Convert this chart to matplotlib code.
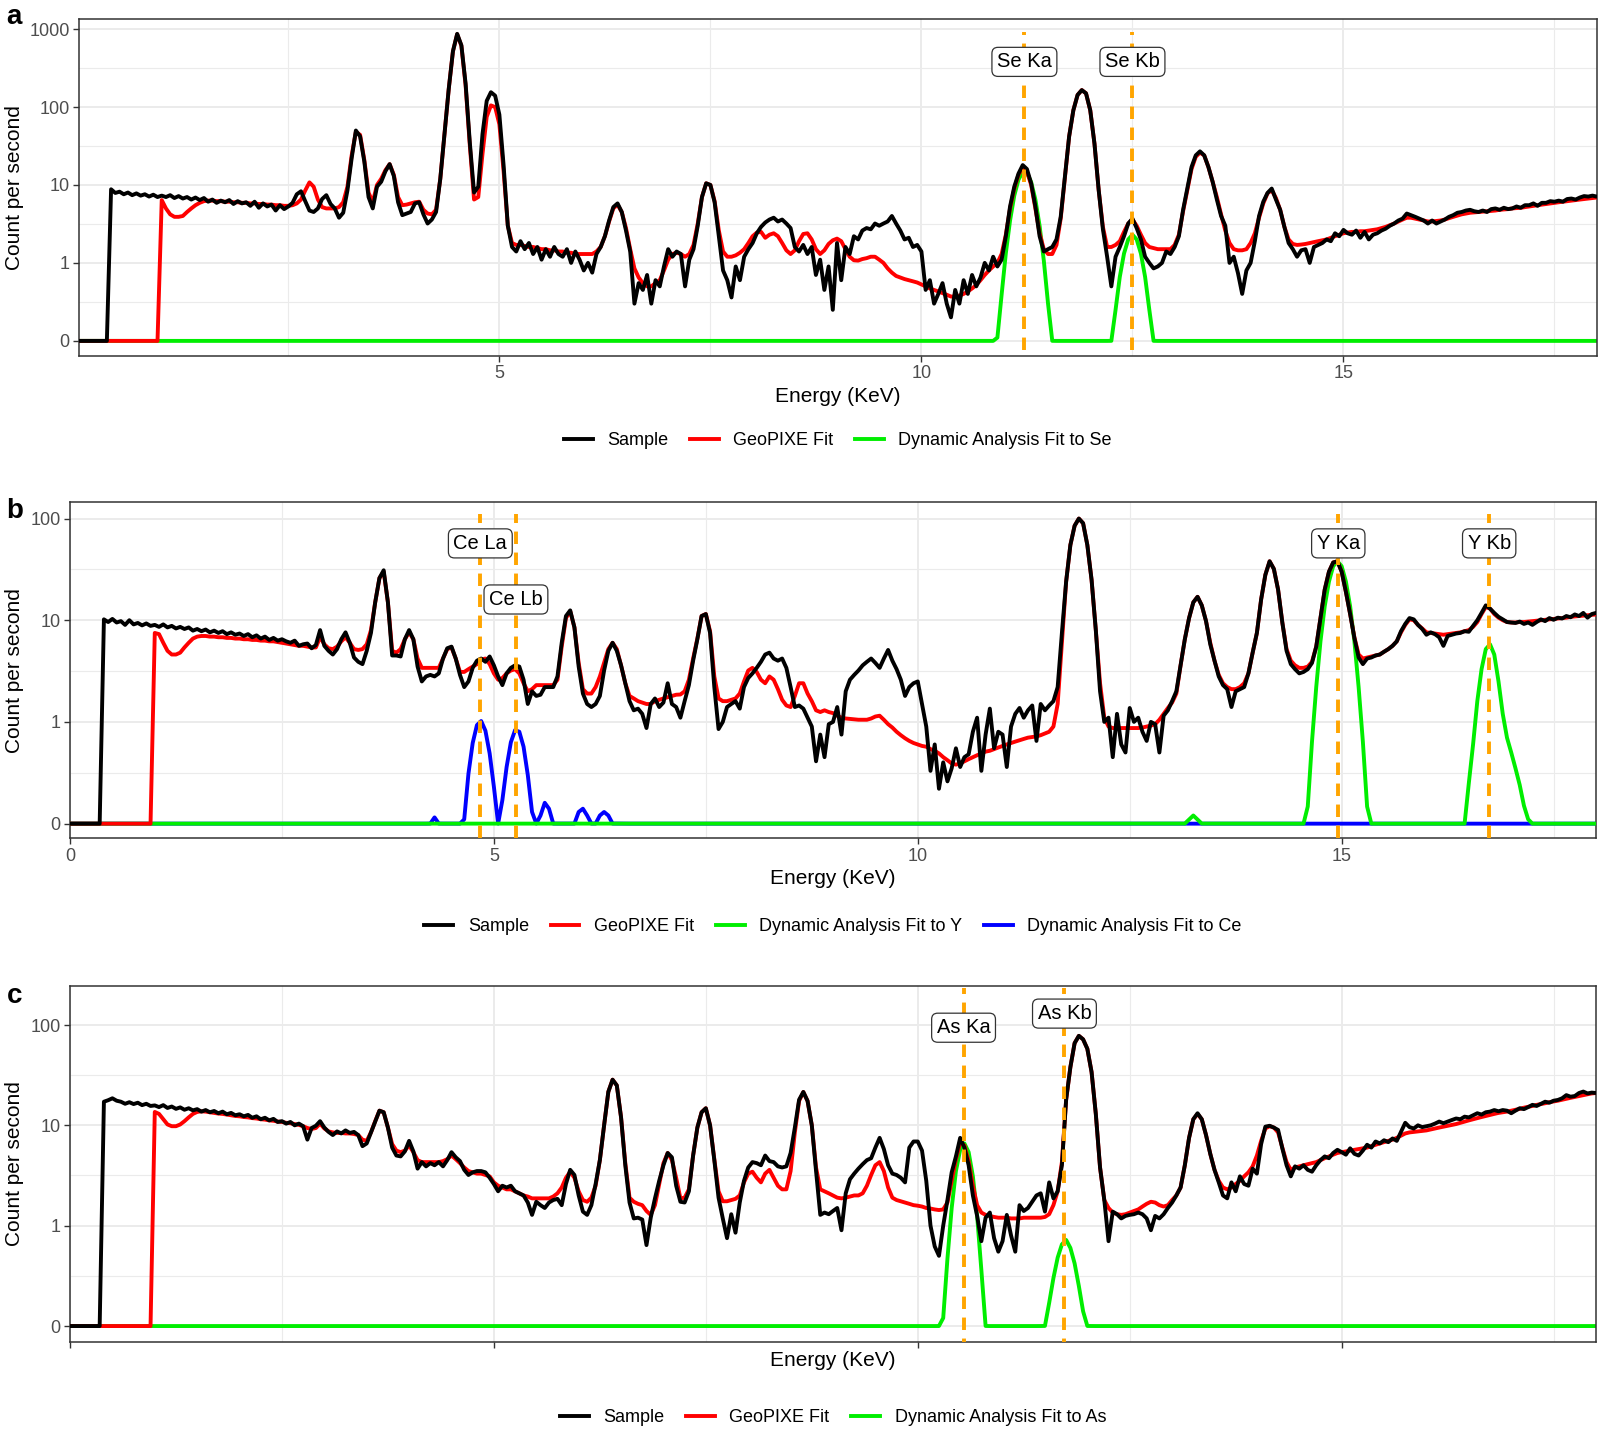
import numpy as np
import matplotlib
matplotlib.use("Agg")
import matplotlib.pyplot as plt
from matplotlib.lines import Line2D
from matplotlib.ticker import FixedLocator

plt.rcParams['font.family'] = ['Liberation Sans', 'DejaVu Sans']

# Energy channels (keV), 0.05 keV steps from 0 to 18
energy = np.round(np.arange(361) * 0.05, 2)

# ---------------- Panel a (Se) ----------------
sample_a = [
    0, 0, 0, 0, 0, 0, 0, 0, 8.8, 7.9, 8.2, 7.6, 8.0, 7.4, 7.8, 7.3, 7.6, 7.1, 7.5, 7.0,
    7.3, 7.0, 7.4, 6.8, 7.2, 6.7, 7.0, 6.5, 6.9, 6.4, 6.8, 6.1, 6.5, 5.9, 6.3, 6.0, 6.4, 5.7, 6.2, 5.8,
    6.0, 5.4, 6.1, 5.1, 5.8, 5.3, 5.6, 4.7, 5.5, 4.9, 5.3, 5.9, 7.6, 8.3, 6.2, 4.7, 4.5, 5.0, 6.6, 7.4,
    5.7, 5.0, 3.8, 4.4, 8.5, 22, 50, 42, 20, 7.0, 5.0, 9.5, 11, 15, 18.5, 13, 6.0, 4.1, 4.3, 4.5,
    5.8, 6.0, 4.2, 3.2, 3.6, 4.5, 12, 45, 170, 520, 870, 620, 200, 35, 8.0, 9.5, 45, 120, 155, 140,
    80, 18, 3.0, 1.6, 1.4, 1.9, 1.5, 1.8, 1.3, 1.6, 1.1, 1.5, 1.2, 1.6, 1.3, 1.2, 1.5, 1.0, 1.4, 1.1,
    0.8, 1.0, 0.75, 1.3, 1.6, 2.2, 3.5, 5.2, 5.8, 4.5, 2.6, 1.4, 0.3, 0.55, 0.45, 0.7, 0.3, 0.6, 0.5, 0.9,
    1.5, 1.2, 1.4, 1.3, 0.5, 1.1, 1.5, 3.0, 7.0, 10.5, 10, 6.0, 2.2, 0.8, 0.6, 0.36, 0.9, 0.6, 1.2, 1.5,
    1.8, 2.4, 2.9, 3.3, 3.6, 3.8, 3.4, 3.6, 3.2, 2.8, 1.6, 1.4, 1.7, 1.3, 1.6, 0.7, 1.1, 0.45, 0.9, 0.25,
    1.8, 0.6, 1.6, 1.3, 2.2, 2.0, 2.6, 2.8, 2.7, 3.2, 3.0, 3.2, 3.4, 4.0, 3.2, 2.6, 2.0, 2.1, 1.6, 1.7,
    1.4, 0.45, 0.6, 0.3, 0.4, 0.55, 0.3, 0.2, 0.45, 0.3, 0.6, 0.4, 0.7, 0.5, 0.65, 1.0, 0.8, 1.2, 0.9, 1.1,
    2.2, 5.3, 9.5, 14, 18, 16, 10.5, 5.3, 2.2, 1.4, 1.5, 1.6, 2.0, 3.9, 12.8, 42, 91, 143, 165, 150,
    91, 34, 8.6, 2.7, 1.2, 0.5, 1.2, 1.6, 2.2, 3.2, 3.7, 2.8, 2.0, 1.2, 1.0, 0.85, 0.9, 1.0, 1.4, 1.3,
    1.6, 2.2, 4.8, 9.0, 17, 24, 27, 24, 17, 11, 6.5, 4.0, 3.0, 1.0, 1.2, 0.74, 0.4, 0.8, 1.0, 1.9,
    4.0, 6.1, 7.9, 9.0, 6.5, 4.8, 2.9, 1.8, 1.5, 1.2, 1.45, 1.5, 1.0, 1.6, 1.7, 1.8, 2.0, 1.9, 2.4, 2.2,
    2.65, 2.4, 2.3, 2.6, 2.1, 2.5, 2.0, 2.3, 2.4, 2.6, 2.75, 3.0, 3.2, 3.5, 3.7, 4.3, 4.1, 3.9, 3.7, 3.5,
    3.2, 3.5, 3.2, 3.4, 3.6, 3.9, 4.1, 4.4, 4.5, 4.7, 4.8, 4.6, 4.5, 4.7, 4.5, 4.9, 5.0, 4.8, 5.1, 4.9,
    5.0, 5.3, 5.1, 5.5, 5.5, 5.8, 5.4, 5.9, 5.9, 6.2, 6.1, 6.3, 6.1, 6.6, 6.7, 6.5, 6.9, 7.2, 7.1, 7.3, 7.1,
]
fit_a = [
    0, 0, 0, 0, 0, 0, 0, 0, 0, 0, 0, 0, 0, 0, 0, 0, 0, 0, 0, 0,
    6.4, 5.0, 4.2, 3.9, 3.9, 4.0, 4.5, 5.0, 5.5, 5.9, 6.2, 6.3, 6.3, 6.2, 6.2, 6.1, 6.1, 6.0, 6.0, 5.9,
    5.9, 5.8, 5.8, 5.7, 5.7, 5.6, 5.6, 5.5, 5.5, 5.4, 5.4, 5.5, 5.8, 6.5, 8.5, 10.8, 9.5, 6.5, 5.2, 5.0,
    5.0, 5.0, 5.2, 6.0, 9.5, 24, 48, 44, 21, 8.0, 6.0, 10, 12, 15.5, 18.5, 13.5, 7.0, 5.5, 5.6, 5.8,
    6.0, 6.1, 4.8, 4.3, 4.2, 4.8, 12, 45, 170, 520, 860, 610, 190, 32, 6.5, 7.0, 25, 75, 105, 100,
    60, 15, 3.0, 1.8, 1.7, 1.7, 1.65, 1.6, 1.6, 1.55, 1.5, 1.5, 1.45, 1.45, 1.4, 1.4, 1.35, 1.35, 1.3, 1.3,
    1.3, 1.3, 1.3, 1.4, 1.6, 2.2, 3.4, 5.0, 5.6, 4.5, 2.8, 1.5, 0.85, 0.65, 0.55, 0.5, 0.5, 0.55, 0.6, 0.8,
    1.1, 1.3, 1.35, 1.3, 1.2, 1.3, 1.7, 3.2, 7.0, 10.5, 10, 6.2, 2.6, 1.4, 1.2, 1.2, 1.25, 1.35, 1.5, 1.8,
    2.2, 2.45, 2.5, 2.1, 2.3, 2.4, 2.2, 1.8, 1.45, 1.3, 1.45, 1.9, 2.35, 2.4, 2.0, 1.5, 1.3, 1.45, 1.75, 1.95,
    2.05, 1.9, 1.5, 1.2, 1.08, 1.07, 1.12, 1.15, 1.2, 1.2, 1.1, 1.0, 0.85, 0.75, 0.68, 0.65, 0.62, 0.6, 0.58, 0.56,
    0.53, 0.5, 0.47, 0.45, 0.43, 0.41, 0.39, 0.37, 0.37, 0.38, 0.4, 0.43, 0.47, 0.52, 0.6, 0.7, 0.8, 0.9, 1.0, 1.3,
    2.3, 5.0, 9.0, 13.5, 17, 15, 10, 5.0, 2.4, 1.5, 1.3, 1.3, 1.7, 3.7, 12.5, 42, 91, 143, 165, 150,
    91, 34, 8.6, 2.9, 1.6, 1.6, 1.7, 1.9, 2.5, 3.2, 3.6, 3.0, 2.3, 1.8, 1.6, 1.55, 1.5, 1.5, 1.5, 1.5,
    1.7, 2.3, 4.6, 8.6, 16, 23, 26, 24, 17, 11, 7.0, 4.2, 2.6, 1.8, 1.5, 1.45, 1.45, 1.5, 1.8, 2.4,
    3.8, 5.8, 7.8, 8.6, 6.8, 4.8, 2.9, 2.0, 1.75, 1.7, 1.72, 1.75, 1.8, 1.85, 1.9, 1.95, 2.0, 2.1, 2.2, 2.3,
    2.4, 2.45, 2.5, 2.5, 2.55, 2.55, 2.6, 2.65, 2.7, 2.8, 2.9, 3.05, 3.2, 3.4, 3.6, 3.8, 3.8, 3.7, 3.6, 3.5,
    3.4, 3.4, 3.45, 3.5, 3.6, 3.75, 3.9, 4.05, 4.2, 4.3, 4.4, 4.45, 4.5, 4.55, 4.6, 4.65, 4.7, 4.8, 4.85, 4.9,
    5.0, 5.05, 5.1, 5.2, 5.3, 5.4, 5.5, 5.6, 5.7, 5.8, 5.9, 6.0, 6.1, 6.2, 6.3, 6.4, 6.5, 6.6, 6.7, 6.8, 6.9,
]
se_energy = [0.0, 10.85, 10.9, 10.95, 11.0, 11.05, 11.1, 11.15, 11.2, 11.25, 11.3, 11.35, 11.4, 11.45,
             11.5, 11.55, 11.6, 12.2, 12.25, 12.3, 12.35, 12.4, 12.45, 12.5, 12.55, 12.6, 12.65, 12.7,
             12.75, 12.8, 18.0]
se_fit = [0, 0.02, 0.11, 0.39, 1.33, 3.5, 7.3, 11.7, 14.7, 14.3, 10.9, 6.5, 3.0, 1.07,
          0.30, 0.08, 0, 0, 0.08, 0.25, 0.66, 1.32, 2.0, 2.3, 2.0, 1.32, 0.66, 0.25,
          0.08, 0, 0]

# ---------------- Panel b (Y, Ce) ----------------
sample_b = [
    0, 0, 0, 0, 0, 0, 0, 0, 10.2, 9.6, 10.3, 9.5, 9.8, 9.0, 10.0, 9.1, 9.4, 8.9, 9.3, 8.8,
    9.0, 8.6, 9.1, 8.5, 8.8, 8.3, 8.6, 8.2, 8.5, 7.9, 8.2, 7.8, 8.1, 7.6, 7.9, 7.5, 7.8, 7.3, 7.6, 7.2,
    7.4, 7.0, 7.3, 6.8, 7.1, 6.6, 6.9, 6.4, 6.7, 6.3, 6.5, 6.2, 6.0, 6.3, 5.6, 5.8, 5.9, 5.3, 5.7, 8.0,
    5.6, 5.0, 4.6, 5.2, 6.5, 7.6, 6.0, 4.3, 3.9, 3.7, 5.0, 7.5, 15, 26, 31, 15, 4.5, 4.5, 4.4, 6.5,
    8.0, 6.5, 3.5, 2.5, 2.8, 2.9, 2.8, 3.0, 4.2, 5.3, 5.5, 4.2, 2.9, 2.2, 2.5, 3.4, 4.0, 4.2, 3.9, 4.4,
    3.6, 2.8, 2.3, 3.0, 3.4, 3.6, 3.5, 2.6, 1.5, 2.0, 1.8, 1.85, 2.2, 2.2, 2.2, 2.8, 6.0, 11, 12.5, 8.5,
    3.5, 1.9, 1.5, 1.4, 1.5, 1.8, 3.2, 5.0, 6.0, 5.0, 3.6, 2.4, 1.6, 1.3, 1.35, 1.2, 0.87, 1.5, 1.7, 1.4,
    1.55, 2.4, 1.5, 1.4, 1.1, 1.6, 2.3, 4.0, 6.5, 11, 11.5, 7.5, 2.2, 0.85, 1.0, 1.4, 1.5, 1.6, 1.35, 2.2,
    2.7, 3.0, 3.4, 3.9, 4.6, 4.8, 4.2, 4.0, 4.2, 3.4, 2.2, 1.4, 1.45, 1.35, 1.1, 0.9, 0.41, 0.75, 0.45, 0.95,
    1.0, 1.4, 0.75, 2.0, 2.6, 2.9, 3.2, 3.6, 3.9, 4.2, 3.8, 3.4, 4.2, 5.1, 4.0, 3.3, 2.6, 1.8, 2.2, 2.4,
    2.5, 1.5, 0.9, 0.33, 0.6, 0.22, 0.4, 0.26, 0.35, 0.55, 0.36, 0.45, 0.48, 0.8, 1.1, 0.33, 0.75, 1.35, 0.55, 0.8,
    0.75, 0.36, 0.9, 1.2, 1.37, 1.1, 1.3, 1.45, 0.65, 1.5, 1.3, 1.45, 1.6, 2.2, 7.5, 24, 55, 85, 100, 90,
    55, 25, 8.0, 2.0, 1.0, 1.1, 0.45, 1.2, 0.6, 0.5, 1.37, 1.0, 1.1, 0.8, 0.65, 1.0, 0.95, 0.5, 1.15, 1.3,
    1.6, 2.0, 3.6, 6.5, 10.5, 15, 17, 14, 9.8, 5.8, 4.0, 2.8, 2.3, 2.1, 1.4, 2.0, 2.1, 2.2, 3.0, 4.8,
    7.5, 16, 28, 38, 32, 20, 9.5, 5.0, 3.7, 3.3, 3.0, 3.1, 3.3, 3.8, 5.5, 10.5, 20, 30, 37, 38,
    30, 19, 11.5, 6.7, 4.3, 3.7, 4.2, 4.3, 4.5, 4.6, 4.9, 5.2, 5.6, 6.2, 7.8, 9.2, 10.5, 10.2, 9.0, 8.2,
    7.2, 7.6, 7.3, 6.8, 5.6, 7.0, 7.2, 7.4, 7.5, 7.8, 7.7, 8.8, 10, 11.8, 14, 13, 11.8, 10.8, 10.2, 9.6,
    9.5, 9.4, 9.7, 9.2, 9.5, 9.0, 9.6, 10.2, 9.8, 10.5, 10.1, 10.6, 10.4, 11.0, 10.7, 11.4, 11.0, 11.8, 10.6, 11.5, 11.8,
]
fit_b = [
    0, 0, 0, 0, 0, 0, 0, 0, 0, 0, 0, 0, 0, 0, 0, 0, 0, 0, 0, 0,
    7.5, 7.3, 6.0, 5.0, 4.6, 4.6, 4.8, 5.4, 6.0, 6.6, 6.9, 7.0, 7.0, 6.9, 6.9, 6.8, 6.8, 6.7, 6.7, 6.6,
    6.6, 6.5, 6.5, 6.4, 6.4, 6.3, 6.3, 6.2, 6.2, 6.1, 6.0, 5.9, 5.8, 5.7, 5.6, 5.6, 5.5, 5.4, 5.4, 6.8,
    5.8, 5.3, 5.2, 5.5, 6.2, 6.8, 6.0, 5.2, 5.1, 5.2, 5.8, 8.0, 15, 26, 30, 15, 5.0, 4.8, 5.2, 6.5,
    7.6, 6.5, 4.2, 3.4, 3.4, 3.4, 3.4, 3.4, 4.2, 5.2, 5.4, 4.2, 3.1, 3.1, 3.3, 3.5, 3.7, 4.1, 4.2, 3.7,
    3.0, 2.6, 2.7, 3.0, 3.2, 3.3, 3.0, 2.4, 2.0, 2.1, 2.3, 2.3, 2.3, 2.3, 2.3, 2.6, 5.5, 10.5, 12.3, 8.5,
    3.8, 2.1, 1.9, 1.9, 2.2, 2.8, 3.8, 5.2, 6.0, 5.2, 3.6, 2.4, 1.8, 1.7, 1.6, 1.55, 1.5, 1.5, 1.6, 1.65,
    1.7, 1.75, 1.8, 1.85, 1.86, 2.0, 2.6, 4.2, 6.6, 11, 11.5, 7.8, 2.8, 1.7, 1.6, 1.6, 1.65, 1.7, 1.9, 2.5,
    3.2, 3.4, 3.1, 2.6, 2.4, 2.8, 2.6, 2.1, 1.65, 1.45, 1.4, 1.8, 2.4, 2.4, 1.9, 1.6, 1.3, 1.25, 1.3, 1.25,
    1.22, 1.15, 1.1, 1.08, 1.07, 1.06, 1.05, 1.05, 1.05, 1.08, 1.13, 1.15, 1.05, 0.95, 0.88, 0.8, 0.74, 0.69, 0.65, 0.62,
    0.6, 0.58, 0.57, 0.54, 0.52, 0.49, 0.45, 0.42, 0.39, 0.38, 0.39, 0.41, 0.43, 0.45, 0.47, 0.49, 0.51, 0.52, 0.54, 0.56,
    0.58, 0.6, 0.62, 0.64, 0.66, 0.68, 0.7, 0.71, 0.72, 0.74, 0.77, 0.8, 0.9, 1.5, 6.0, 24, 55, 85, 100, 90,
    55, 25, 8.0, 2.4, 1.1, 0.9, 0.87, 0.87, 0.87, 0.87, 0.87, 0.87, 0.87, 0.88, 0.9, 0.92, 0.95, 1.05, 1.2, 1.37,
    1.55, 1.9, 3.6, 6.5, 10.5, 15, 17, 14, 9.8, 6.0, 4.0, 2.9, 2.4, 2.2, 2.1, 2.1, 2.2, 2.4, 3.0, 4.8,
    7.5, 16, 28, 38, 32, 20, 9.5, 5.2, 4.0, 3.6, 3.4, 3.4, 3.5, 3.9, 5.5, 10.5, 20, 30, 37, 38,
    30, 19, 11.5, 6.8, 4.6, 4.2, 4.3, 4.4, 4.5, 4.6, 4.9, 5.2, 5.6, 6.2, 7.6, 9.0, 10.2, 10.0, 9.0, 8.3,
    7.6, 7.5, 7.4, 7.3, 7.2, 7.3, 7.4, 7.5, 7.6, 7.8, 8.0, 8.6, 9.6, 11.5, 13.5, 13, 11.5, 10.6, 10.0, 9.6,
    9.5, 9.5, 9.6, 9.6, 9.7, 9.8, 9.9, 10.0, 10.1, 10.2, 10.3, 10.4, 10.5, 10.6, 10.8, 10.9, 11.0, 11.1, 11.2, 11.3, 11.4,
]
y_energy = [0.0, 13.15, 13.25, 13.35,
            14.5, 14.55, 14.6, 14.65, 14.7, 14.75, 14.8, 14.85, 14.9, 14.95, 15.0, 15.05, 15.1, 15.15,
            15.2, 15.25, 15.3, 15.35, 15.4,
            16.35, 16.4, 16.45, 16.5, 16.55, 16.6, 16.65, 16.7, 16.75, 16.8, 16.85, 16.9, 16.95, 17.0,
            17.05, 17.1, 17.15, 17.2, 17.25, 17.3, 18.0]
y_fit = [0, 0.09, 0.12, 0.09,
         0, 0.03, 0.147, 0.64, 2.2, 6.2, 13.7, 24, 34, 38, 34, 24, 13.7, 6.2,
         2.2, 0.64, 0.147, 0.03, 0,
         0, 0.03, 0.1, 0.25, 0.6, 1.6, 3.3, 5.2, 5.8, 4.6, 2.5, 1.2, 0.7, 0.5,
         0.35, 0.24, 0.15, 0.11, 0.05, 0, 0]
ce_energy = [0.0, 4.2, 4.25, 4.3, 4.35, 4.4,
             4.6, 4.65, 4.7, 4.75, 4.8, 4.85, 4.9, 4.95, 5.0, 5.05, 5.1, 5.15, 5.2, 5.25, 5.3, 5.35,
             5.4, 5.45, 5.5, 5.55, 5.6, 5.65, 5.7, 5.75,
             5.9, 5.95, 6.0, 6.05, 6.1, 6.15, 6.2, 6.25, 6.3, 6.35, 6.4, 6.5, 6.6, 18.0]
ce_fit = [0, 0, 0.1, 0.115, 0.1, 0.05,
          0.03, 0.11, 0.31, 0.62, 0.93, 1.02, 0.82, 0.49, 0.23, 0.1, 0.17, 0.36, 0.63, 0.83, 0.8, 0.57,
          0.3, 0.13, 0.09, 0.12, 0.16, 0.14, 0.1, 0.07,
          0.07, 0.1, 0.13, 0.14, 0.12, 0.095, 0.1, 0.12, 0.13, 0.12, 0.1, 0.07, 0, 0]

# ---------------- Panel c (As) ----------------
sample_c = [
    0, 0, 0, 0, 0, 0, 0, 0, 17.2, 17.8, 18.6, 17.6, 17.2, 16.4, 17.0, 16.3, 16.8, 15.9, 16.4, 15.6,
    15.8, 15.2, 15.9, 14.9, 15.4, 14.6, 15.1, 14.3, 14.8, 14.1, 14.5, 13.7, 14.2, 13.5, 13.9, 13.2, 13.7, 12.9, 13.3, 12.6,
    12.9, 12.3, 12.7, 11.9, 12.3, 11.5, 11.9, 11.2, 11.6, 10.8, 11.0, 10.4, 10.8, 10.0, 10.4, 9.8, 7.2, 9.4, 9.9, 11.0,
    9.5, 8.6, 8.0, 8.7, 8.3, 8.9, 8.4, 8.6, 8.0, 6.2, 6.6, 8.5, 11, 14.0, 13.5, 9.5, 6.0, 5.0, 4.9, 5.5,
    7.0, 5.5, 3.7, 4.3, 3.9, 4.2, 4.0, 4.3, 3.9, 4.5, 5.4, 4.8, 4.4, 3.6, 3.2, 3.4, 3.5, 3.5, 3.4, 3.0,
    2.6, 2.2, 2.5, 2.4, 2.5, 2.2, 2.1, 2.0, 1.7, 1.28, 1.73, 1.6, 1.5, 1.7, 1.8, 1.85, 1.6, 2.6, 3.6, 3.2,
    2.0, 1.38, 1.28, 1.6, 2.6, 4.5, 10, 21.6, 28.5, 25, 12, 4.0, 1.7, 1.18, 1.2, 1.15, 0.64, 1.2, 1.87, 2.8,
    4.0, 5.3, 4.8, 2.5, 1.73, 1.7, 2.2, 5.0, 9.5, 13.5, 14.8, 10, 4.5, 1.9, 1.18, 0.75, 1.3, 0.85, 1.7, 2.8,
    3.8, 4.3, 4.2, 4.0, 5.0, 4.4, 4.3, 3.9, 3.8, 3.9, 5.3, 9.5, 18, 21.5, 17.5, 10, 3.5, 1.28, 1.35, 1.3,
    1.4, 1.5, 0.9, 2.1, 2.9, 3.3, 3.7, 4.1, 4.5, 4.7, 6.0, 7.5, 5.8, 4.0, 3.3, 3.2, 3.0, 2.7, 6.0, 6.9,
    6.9, 5.6, 2.8, 1.0, 0.62, 0.5, 1.0, 1.8, 3.4, 4.9, 7.5, 6.0, 4.0, 2.0, 1.25, 0.7, 1.2, 1.35, 0.75, 0.55,
    0.7, 1.28, 0.8, 0.55, 1.6, 1.4, 1.5, 1.73, 2.0, 2.1, 1.38, 2.7, 1.87, 2.2, 4.0, 18, 38, 66, 78, 72,
    58, 34, 13, 3.8, 1.8, 0.7, 1.38, 1.3, 1.18, 1.25, 1.28, 1.3, 1.35, 1.3, 1.18, 0.9, 1.25, 1.18, 1.3, 1.5,
    1.7, 2.0, 2.4, 4.0, 7.5, 11.5, 13.2, 11.5, 8.0, 5.2, 3.6, 2.7, 2.0, 1.87, 2.7, 2.2, 3.1, 2.6, 2.5, 3.7,
    3.3, 6.5, 9.7, 9.9, 9.5, 9.0, 5.9, 4.0, 3.1, 3.9, 3.7, 4.0, 3.6, 3.45, 4.0, 4.5, 4.9, 4.7, 5.3, 5.7,
    5.4, 5.1, 5.9, 5.2, 5.0, 5.6, 6.4, 6.0, 6.9, 6.6, 7.1, 6.8, 7.4, 7.0, 8.6, 10.6, 9.6, 9.3, 10.0, 9.6,
    9.8, 10.0, 10.4, 10.9, 10.5, 10.9, 11.3, 11.7, 11.5, 12.2, 12.0, 12.6, 13.2, 12.8, 13.5, 13.7, 14.2, 13.8, 14.2, 14.0,
    13.2, 14.0, 14.8, 14.5, 15.2, 16.0, 15.6, 16.4, 17.2, 16.8, 17.6, 17.9, 18.6, 20, 19.3, 19.6, 21, 21.7, 20.8, 21.2, 21,
]
fit_c = [
    0, 0, 0, 0, 0, 0, 0, 0, 0, 0, 0, 0, 0, 0, 0, 0, 0, 0, 0, 0,
    13.6, 13.0, 11.5, 10.2, 9.8, 9.8, 10.2, 11, 12, 13, 13.6, 13.8, 13.7, 13.5, 13.3, 13.1, 13.0, 12.8, 12.6, 12.4,
    12.3, 12.1, 12.0, 11.8, 11.7, 11.5, 11.4, 11.2, 11.1, 10.9, 10.8, 10.6, 10.5, 10.3, 10.1, 9.8, 9.4, 9.2, 9.4, 10.4,
    9.3, 8.7, 8.5, 8.4, 8.4, 8.3, 8.3, 8.2, 8.0, 7.2, 7.0, 8.5, 11, 14.0, 13.5, 9.5, 6.5, 5.6, 5.4, 5.6,
    6.3, 5.4, 4.5, 4.3, 4.3, 4.3, 4.3, 4.3, 4.4, 4.6, 5.0, 4.6, 4.2, 3.8, 3.5, 3.4, 3.3, 3.3, 3.2, 3.1,
    2.7, 2.5, 2.4, 2.3, 2.3, 2.2, 2.1, 2.0, 1.95, 1.87, 1.87, 1.87, 1.87, 1.87, 1.95, 2.1, 2.4, 3.0, 3.45, 3.0,
    2.2, 1.8, 1.73, 1.9, 2.5, 4.5, 10, 21.6, 28.5, 25, 12, 4.2, 1.9, 1.73, 1.65, 1.6, 1.4, 1.28, 1.6, 2.6,
    4.2, 5.3, 4.5, 3.0, 1.87, 1.9, 2.3, 5.0, 9.5, 13.5, 14.8, 10, 4.6, 2.2, 1.75, 1.75, 1.8, 1.85, 2.0, 2.7,
    3.3, 3.45, 3.0, 2.7, 3.3, 3.6, 3.0, 2.5, 2.3, 2.3, 3.5, 8.5, 17.5, 21.5, 17.5, 10, 3.8, 2.3, 2.2, 2.1,
    2.0, 1.9, 1.87, 1.9, 1.95, 2.0, 2.0, 2.1, 2.5, 3.2, 4.0, 4.3, 3.5, 2.4, 1.9, 1.8, 1.75, 1.7, 1.65, 1.6,
    1.58, 1.55, 1.5, 1.48, 1.45, 1.43, 1.45, 1.7, 2.8, 4.6, 6.7, 6.3, 4.4, 2.5, 1.6, 1.35, 1.28, 1.25, 1.22, 1.2,
    1.2, 1.2, 1.18, 1.18, 1.18, 1.2, 1.2, 1.2, 1.2, 1.2, 1.22, 1.3, 1.6, 2.2, 4.3, 18, 38, 66, 78, 72,
    58, 34, 13, 3.8, 1.8, 1.5, 1.35, 1.3, 1.28, 1.3, 1.35, 1.4, 1.45, 1.55, 1.65, 1.73, 1.7, 1.6, 1.55, 1.6,
    1.8, 2.0, 2.4, 4.0, 7.5, 11.5, 13.0, 11.5, 8.0, 5.2, 3.6, 2.8, 2.4, 2.3, 2.4, 2.6, 2.8, 3.1, 3.4, 3.9,
    5.0, 7.0, 9.3, 9.8, 9.5, 8.5, 6.0, 4.3, 3.6, 3.8, 3.9, 4.0, 4.1, 4.2, 4.3, 4.5, 4.7, 4.9, 5.1, 5.3,
    5.4, 5.5, 5.6, 5.7, 5.8, 5.9, 6.0, 6.2, 6.4, 6.6, 6.8, 7.0, 7.2, 7.5, 7.9, 8.3, 8.5, 8.6, 8.7, 8.8,
    8.9, 9.1, 9.3, 9.5, 9.7, 9.9, 10.1, 10.3, 10.6, 10.9, 11.2, 11.5, 11.8, 12.1, 12.4, 12.7, 13.0, 13.3, 13.5, 13.7,
    14.0, 14.3, 14.6, 15.0, 15.3, 15.6, 16.0, 16.3, 16.6, 17.0, 17.3, 17.6, 18.0, 18.4, 18.8, 19.2, 19.6, 20.0, 20.4, 20.8, 21.0,
]
as_energy = [0.0, 10.2, 10.25, 10.3, 10.35, 10.4, 10.45, 10.5, 10.55, 10.6, 10.65, 10.7, 10.75, 10.8, 10.85,
             11.4, 11.45, 11.5, 11.55, 11.6, 11.65, 11.7, 11.75, 11.8, 11.85, 11.9, 11.95, 12.0, 12.05, 12.1,
             18.0]
as_fit = [0, 0, 0.03, 0.12, 0.47, 1.5, 3.5, 5.7, 6.6, 5.4, 3.1, 1.25, 0.36, 0.09, 0,
          0, 0.03, 0.1, 0.17, 0.3, 0.48, 0.65, 0.72, 0.6, 0.42, 0.25, 0.14, 0.08, 0.03, 0,
          0]

# Emission lines and labels
lines_a = [("Se Ka", 11.22, 380), ("Se Kb", 12.50, 380)]
lines_b = [("Ce La", 4.84, 57), ("Ce Lb", 5.26, 16), ("Y Ka", 14.96, 57), ("Y Kb", 16.74, 57)]
lines_c = [("As Ka", 10.54, 94), ("As Kb", 11.73, 130)]

# ---------- pseudo-log y scale: 0 drawn one decade below 1 ----------
def fwd(x):
    x = np.asarray(x, dtype=float)
    return np.where(x >= 0.1, np.log10(np.maximum(x, 0.1)), -1.0 + (x - 0.1) * 0.01)


def inv(t):
    t = np.asarray(t, dtype=float)
    return np.where(t >= -1.0, np.power(10.0, np.clip(t, -1.0, 300)), 0.1 + (t + 1.0) / 0.01)


BLACK = "#000000"
RED = "#FF0000"
GREEN = "#00EE00"
BLUE = "#0000FF"
ORANGE = "#FFA500"
LW = 2.8

fig = plt.figure(figsize=(16, 14.34), dpi=100)

panels = [
    dict(rect=[0.04938, 0.75195, 0.94856, 0.23480], sample=sample_a, fit=fit_a,
         extra=[(se_energy, se_fit, GREEN, "Dynamic Analysis Fit to Se")],
         lines=lines_a, vtop=923, ylim=(-19.0, 10 ** 3.13), yticks=[0, 1, 10, 100, 1000],
         yminor=[10 ** -0.5, 10 ** 0.5, 10 ** 1.5, 10 ** 2.5], xlim=(0.02, 18.0),
         xticks=[5, 10, 15], xlabels=["5", "10", "15"], xlab_y=-0.1197, ylab_x=-0.0426,
         leg_y=-0.2533, tag="a", tag_y=24.5),
    dict(rect=[0.04375, 0.41541, 0.95375, 0.23431], sample=sample_b, fit=fit_b,
         extra=[(ce_energy, ce_fit, BLUE, "Dynamic Analysis Fit to Ce"),
                (y_energy, y_fit, GREEN, "Dynamic Analysis Fit to Y")],
         lines=lines_b, vtop=110, ylim=(-14.4, 10 ** 2.16), yticks=[0, 1, 10, 100],
         yminor=[10 ** -0.5, 10 ** 0.5, 10 ** 1.5], xlim=(0.0, 18.0),
         xticks=[0, 5, 10, 15], xlabels=["0", "5", "10", "15"], xlab_y=-0.12, ylab_x=-0.0365,
         leg_y=-0.2628, tag="b", tag_y=518),
    dict(rect=[0.04375, 0.06437, 0.95375, 0.24839], sample=sample_c, fit=fit_c,
         extra=[(as_energy, as_fit, GREEN, "Dynamic Analysis Fit to As")],
         lines=lines_c, vtop=234, ylim=(-15.6, 10 ** 2.394), yticks=[0, 1, 10, 100],
         yminor=[10 ** -0.5, 10 ** 0.5, 10 ** 1.5], xlim=(0.0, 18.0),
         xticks=[0, 5, 10, 15], xlabels=["", "", "", ""], xlab_y=-0.0542, ylab_x=-0.0365,
         leg_y=-0.2142, tag="c", tag_y=1003),
]

for p in panels:
    ax = fig.add_axes(p["rect"])
    ax.set_yscale("function", functions=(fwd, inv))

    z = 2
    for e, v, col, _ in p["extra"]:
        ax.plot(e, v, color=col, lw=LW, zorder=z, solid_joinstyle="round")
        z += 1
    ax.plot(energy, p["fit"], color=RED, lw=LW, zorder=6, solid_joinstyle="round")
    ax.plot(energy, p["sample"], color=BLACK, lw=LW, zorder=7, solid_joinstyle="round")

    for name, xe, ylab in p["lines"]:
        ax.plot([xe, xe], [-200, p["vtop"]], color=ORANGE, lw=LW, ls=(0, (3.2, 2.2)), zorder=8)
        ax.text(xe, ylab, name, ha="center", va="center", fontsize=14.5, color="black", zorder=10,
                bbox=dict(boxstyle="round,pad=0.25,rounding_size=0.3", fc="white", ec="#333333", lw=0.9))

    ax.set_xlim(*p["xlim"])
    ax.set_ylim(*p["ylim"])
    ax.set_yticks(p["yticks"])
    ax.set_yticklabels([str(t) for t in p["yticks"]])
    ax.yaxis.set_minor_locator(FixedLocator(p["yminor"]))
    ax.set_xticks(p["xticks"])
    ax.set_xticklabels(p["xlabels"])
    ax.xaxis.set_minor_locator(FixedLocator([2.5, 7.5, 12.5, 17.5]))

    ax.set_axisbelow(True)
    ax.grid(which="major", color="#EBEBEB", lw=1.4, zorder=0)
    ax.grid(which="minor", color="#EBEBEB", lw=0.8, zorder=0)
    ax.tick_params(which="major", length=4.3, width=1.0, color="#333333", labelcolor="#4D4D4D",
                   labelsize=13, pad=2.5)
    ax.tick_params(which="minor", length=0)
    for s in ax.spines.values():
        s.set_color("#333333")
        s.set_linewidth(1.1)

    ax.set_xlabel("Energy (KeV)", fontsize=15)
    ax.xaxis.set_label_coords(0.5, p["xlab_y"])
    ax.xaxis.label.set_verticalalignment("center")
    ax.set_ylabel("Count per second", fontsize=15)
    ax.yaxis.set_label_coords(p["ylab_x"], 0.5)
    ax.yaxis.label.set_verticalalignment("center")

    handles = [Line2D([], [], color=BLACK, lw=LW), Line2D([], [], color=RED, lw=LW)]
    labels = ["Sample", "GeoPIXE Fit"]
    for e, v, col, lab in sorted(p["extra"], key=lambda t: t[2] == BLUE):
        handles.append(Line2D([], [], color=col, lw=LW))
        labels.append(lab)
    ax.legend(handles, labels, loc="center", bbox_to_anchor=(0.5, p["leg_y"]), ncol=len(labels),
              frameon=False, fontsize=13, handlelength=1.6, handletextpad=0.8, columnspacing=1.2)

    fig.text(14.3 / 1600, 1 - p["tag_y"] / 1434, p["tag"], fontsize=20, fontweight="bold",
             ha="center", va="baseline")

fig.savefig("out.png", dpi=100)
